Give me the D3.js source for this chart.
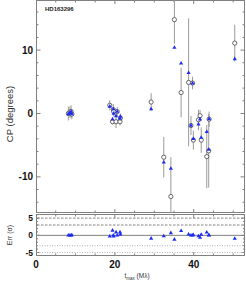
<!DOCTYPE html>
<html><head><meta charset="utf-8">
<script src="https://cdn.jsdelivr.net/npm/d3@7"></script>
<style>body{margin:0;background:#fff}svg{display:block}text{font-family:"Liberation Sans",Arial,sans-serif}</style>
</head><body><svg id="c" width="246" height="281"></svg>
<script>
// ---- data ----
const title = "HD163296";
const baseline = [8.2, 8.6, 8.9, 9.1, 18.7, 19.4, 19.6, 19.7, 20.3, 20.6, 21.3, 21.4, 29.2, 32.4, 34.2, 35.1, 36.8, 38.7, 39.3, 39.7, 39.9, 41.2, 41.6, 41.9, 43.3, 43.8, 43.9, 50.4];
const cpData   = [0.0, 0.2, 0.3, -0.1, 1.3, -1.3, 0.6, 0.3, -1.3, 0.3, -1.3, -0.7, 1.8, -6.9, -13.1, 14.8, 3.3, 4.9, -1.9, 4.8, -4.2, -1.0, -0.35, -4.2, -6.8, -5.9, -0.9, 11.1];
const cpErr    = [1.1, 0.9, 1.0, 0.8, 0.8, 0.4, 0.9, 0.8, 1.0, 0.7, 0.6, 0.7, 1.4, 3.2, 6.2, 3.8, 3.9, 10.1, 1.5, 1.0, 1.5, 1.6, 0.9, 2.0, 5.0, 5.8, 1.2, 2.9];
const cpModel  = [-0.1, 0.1, 0.3, -0.1, 1.1, -0.9, 0.7, 0.0, -0.4, 0.3, -0.8, -0.5, 0.7, -7.7, -8.7, 10.4, 7.9, 6.4, -1.9, 4.75, -4.0, -1.7, -0.9, -3.8, -2.9, -5.7, -0.87, 8.6];
const errSigma = [0.0, 0.0, 0.0, 0.05, -0.3, 1.4, 0.0, -0.3, 0.9, 0.0, 0.9, 0.3, -0.9, -0.2, 0.7, -1.2, 1.3, 0.3, 0.0, 0.0, 0.1, -0.2, -0.65, 0.2, 0.85, 0.05, 0.0, -0.95];
const xTickLabels = [0, 20, 40];
const yTopTickLabels = [10, 0, -10];
const yBotTickLabels = [5, 0, -5];
const sigmaLines = [5, 3, -3, -5];

const svg = d3.select("#c");
const L = 36, R = 245;
const x = d3.scaleLinear().domain([0, 53]).range([L, R]);
const yT = d3.scaleLinear().domain([-15.7, 17.9]).range([213, 0]);
const yB = d3.scaleLinear().domain([-6, 6.2]).range([256, 214]);
const axisCol = "#808080";

function frame(y, tyMinor, tyMajor, xlen, ylenMinor, ylenMajor) {
  const [y0, y1] = y.range();
  const top = Math.min(y0, y1), bot = Math.max(y0, y1);
  const g = svg.append("g");
  g.append("rect").attr("x", L + 0.5).attr("y", top + 0.5).attr("width", R - L - 1).attr("height", bot - top - 1)
    .attr("fill", "none").attr("stroke", axisCol).attr("stroke-width", 1);
  d3.range(5, 53, 5).forEach(v => {
    const len = v % 20 === 0 ? xlen + 1.5 : xlen;
    g.append("line").attr("x1", x(v)).attr("x2", x(v)).attr("y1", top).attr("y2", top + len).attr("stroke", axisCol);
    g.append("line").attr("x1", x(v)).attr("x2", x(v)).attr("y1", bot).attr("y2", bot - len).attr("stroke", axisCol);
  });
  tyMinor.forEach(v => {
    const len = tyMajor.includes(v) ? ylenMajor : ylenMinor;
    g.append("line").attr("x1", L).attr("x2", L + len).attr("y1", y(v)).attr("y2", y(v)).attr("stroke", axisCol);
    g.append("line").attr("x1", R).attr("x2", R - len).attr("y1", y(v)).attr("y2", y(v)).attr("stroke", axisCol);
  });
  return g;
}

frame(yT, d3.range(-14, 18, 2), [10, 0, -10], 2.5, 2.5, 4.5);
frame(yB, d3.range(-5, 7, 1), [5, 0, -5], 2.5, 2, 3.5);

svg.append("line").attr("x1", L).attr("x2", R).attr("y1", yB(0)).attr("y2", yB(0)).attr("stroke", axisCol).attr("stroke-width", 1);
sigmaLines.forEach(v => {
  svg.append("line").attr("x1", L + 1).attr("x2", R - 1).attr("y1", yB(v)).attr("y2", yB(v))
    .attr("stroke", v > 0 ? "#777" : "#aaa").attr("stroke-width", 0.9)
    .attr("stroke-dasharray", v > 0 ? "2.5,1.5" : "1,1.5");
});

svg.append("clipPath").attr("id", "clipT").append("rect").attr("x", L).attr("y", 0).attr("width", R - L).attr("height", 213);
const pts = baseline.map((b, i) => ({b, d: cpData[i], e: cpErr[i], m: cpModel[i], s: errSigma[i]}));
const gT = svg.append("g").attr("clip-path", "url(#clipT)");
gT.selectAll(".eb").data(pts).join("line")
  .attr("x1", d => x(d.b)).attr("x2", d => x(d.b))
  .attr("y1", d => yT(d.d + d.e)).attr("y2", d => yT(d.d - d.e))
  .attr("stroke", "#9a9a9a").attr("stroke-width", 1);
gT.selectAll(".ci").data(pts).join("circle")
  .attr("cx", d => x(d.b)).attr("cy", d => yT(d.d)).attr("r", 2.1)
  .attr("fill", "#fff").attr("stroke", "#444").attr("stroke-width", 0.8);
const tri = d3.symbol().type(d3.symbolTriangle).size(7.5);
gT.selectAll(".tr").data(pts).join("path")
  .attr("d", tri).attr("transform", d => `translate(${x(d.b)},${yT(d.m)})`)
  .attr("fill", "#1f2cf0");

svg.append("g").selectAll("path").data(pts).join("path")
  .attr("d", tri).attr("transform", d => `translate(${x(d.b)},${yB(d.s)})`)
  .attr("fill", "#1f2cf0");

yTopTickLabels.forEach(v => svg.append("text").attr("x", 33).attr("y", yT(v) + 3.5).attr("text-anchor", "end")
  .attr("font-size", 10).attr("font-weight", "bold").attr("fill", "#111").text(v));
yBotTickLabels.forEach(v => svg.append("text").attr("x", 33).attr("y", yB(v) + 3).attr("text-anchor", "end")
  .attr("font-size", 8.5).attr("font-weight", "bold").attr("fill", "#111").text(v));
xTickLabels.forEach(v => svg.append("text").attr("x", x(v)).attr("y", 268).attr("text-anchor", "middle")
  .attr("font-size", 10).attr("font-weight", "bold").attr("fill", "#111").text(v));

svg.append("text").attr("transform", "translate(13,114) rotate(-90)").attr("text-anchor", "middle")
  .attr("font-size", 9.5).attr("fill", "#333").text("CP (degrees)");
svg.append("text").attr("transform", "translate(12,235) rotate(-90)").attr("text-anchor", "middle")
  .attr("font-size", 7).attr("fill", "#333").text("Err (σ)");
const xt = svg.append("text").attr("x", 137).attr("y", 278).attr("text-anchor", "middle").attr("font-size", 6.5).attr("fill", "#333");
xt.append("tspan").text("t");
xt.append("tspan").attr("font-size", 4.5).attr("dy", 1.5).text("max");
xt.append("tspan").attr("dy", -1.5).text(" (Mλ)");

svg.append("text").attr("x", 45).attr("y", 11).attr("font-size", 6).attr("font-weight", "bold").attr("fill", "#222").text(title);
</script></body></html>
